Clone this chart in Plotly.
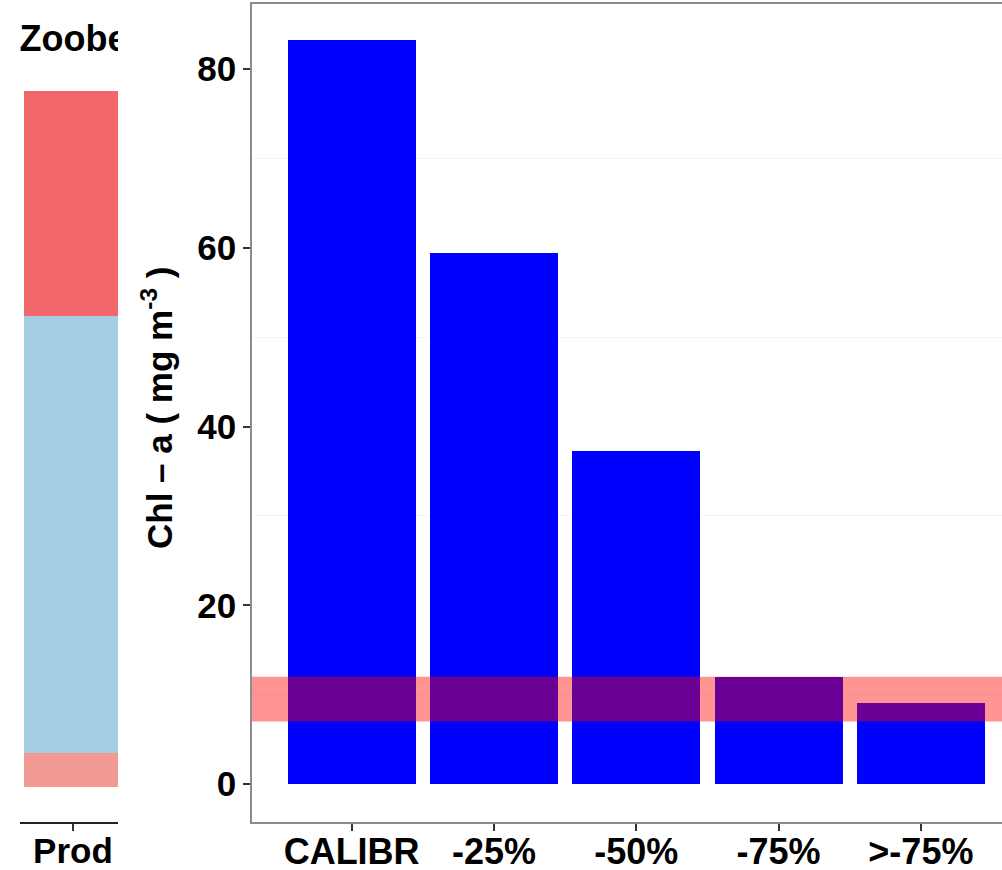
import plotly.graph_objects as go

# Chlorophyll-a under nutrient-load scenarios
scenarios = ["CALIBR", "-25%", "-50%", "-75%", ">-75%"]
chl_a = [83.2, 59.4, 37.3, 12.0, 9.1]

# target range (band)
target_low = 7.0
target_high = 12.0

# neighbouring panel: stacked composition of production
prod_label = "Prod"
prod_segments = ["bottom", "middle", "top"]
prod_values = [4.9, 62.8, 32.3]
prod_colors = ["#F29A94", "#A6CEE3", "#F2676A"]

W, H = 1002, 870
FONT = "Liberation Sans, Arial, sans-serif"


def px_x(p):
    return p / W


def px_y(p):
    return (H - p) / H


fig = go.Figure()

# left panel: stacked bar
for name, val, col in zip(prod_segments, prod_values, prod_colors):
    fig.add_trace(go.Bar(
        x=[0], y=[val], width=0.9, name=name,
        marker=dict(color=col, line=dict(width=0)),
        xaxis="x2", yaxis="y2", showlegend=False,
    ))

# left panel title, clipped at the panel edge
fig.add_trace(go.Scatter(
    x=[-0.49], y=[107.0], mode="text", text=["Zoobenthos"],
    textposition="middle right", cliponaxis=True,
    textfont=dict(family=FONT, size=36, color="black", weight="bold"),
    xaxis="x2", yaxis="y2", showlegend=False, hoverinfo="skip",
))

# main panel: chlorophyll bars
fig.add_trace(go.Bar(
    x=scenarios, y=chl_a, width=0.9,
    marker=dict(color="#0000FF", line=dict(width=0)),
    xaxis="x", yaxis="y", showlegend=False,
))

fig.add_shape(
    type="rect", xref="x domain", yref="y",
    x0=0, x1=1, y0=target_low, y1=target_high,
    fillcolor="rgba(255,0,0,0.42)", line=dict(width=0), layer="above",
)

tickfont = dict(family=FONT, size=35, color="black", weight="bold")
xtickfont = dict(family=FONT, size=36, color="black", weight="bold")

fig.update_layout(
    width=W, height=H,
    margin=dict(l=0, r=0, t=0, b=0, autoexpand=False),
    paper_bgcolor="white", plot_bgcolor="white",
    barmode="stack", bargap=0,
    xaxis=dict(
        domain=[px_x(252), 1.0], anchor="y", automargin=False,
        type="category", categoryorder="array", categoryarray=scenarios,
        range=[-0.7, 4.57],
        showline=True, linecolor="#8C8C8C", linewidth=1.5, mirror=True,
        ticks="outside", ticklen=7, tickcolor="#333333", tickwidth=1.5,
        tickfont=xtickfont, showgrid=False, zeroline=False,
        ticklabelstandoff=-10,
    ),
    yaxis=dict(
        domain=[px_y(822), px_y(4)], anchor="x", automargin=False,
        range=[-4.25, 87.27],
        tickvals=[0, 20, 40, 60, 80],
        showline=True, linecolor="#8C8C8C", linewidth=1.5, mirror=False,
        ticks="outside", ticklen=7, tickcolor="#333333", tickwidth=1.5,
        tickfont=tickfont, showgrid=False, zeroline=False,
        minor=dict(tickvals=[10, 30, 50, 70], showgrid=True,
                   gridcolor="#F4F4F4", gridwidth=1, ticks=""),
    ),
    xaxis2=dict(
        domain=[px_x(20), px_x(118)], anchor="y2", automargin=False,
        range=[-0.486, 0.413],
        tickvals=[0], ticktext=[prod_label],
        showline=True, linecolor="#222222", linewidth=1.5,
        ticks="outside", ticklen=7, tickcolor="#333333", tickwidth=1.5,
        tickfont=tickfont, showgrid=False, zeroline=False,
        ticklabelstandoff=-10,
    ),
    yaxis2=dict(
        domain=[px_y(822), px_y(10)], anchor="x2", automargin=False,
        range=[-5.03, 111.6],
        visible=False, showgrid=False, zeroline=False,
    ),
)

fig.add_annotation(
    xref="paper", yref="paper", x=px_x(157), y=px_y(408),
    text="Chl \u2013 a ( mg m<sup>-3</sup> )", textangle=-90, showarrow=False,
    font=dict(family=FONT, size=35, color="black", weight="bold"),
    xanchor="center", yanchor="middle",
)

fig.write_html("out.html")
